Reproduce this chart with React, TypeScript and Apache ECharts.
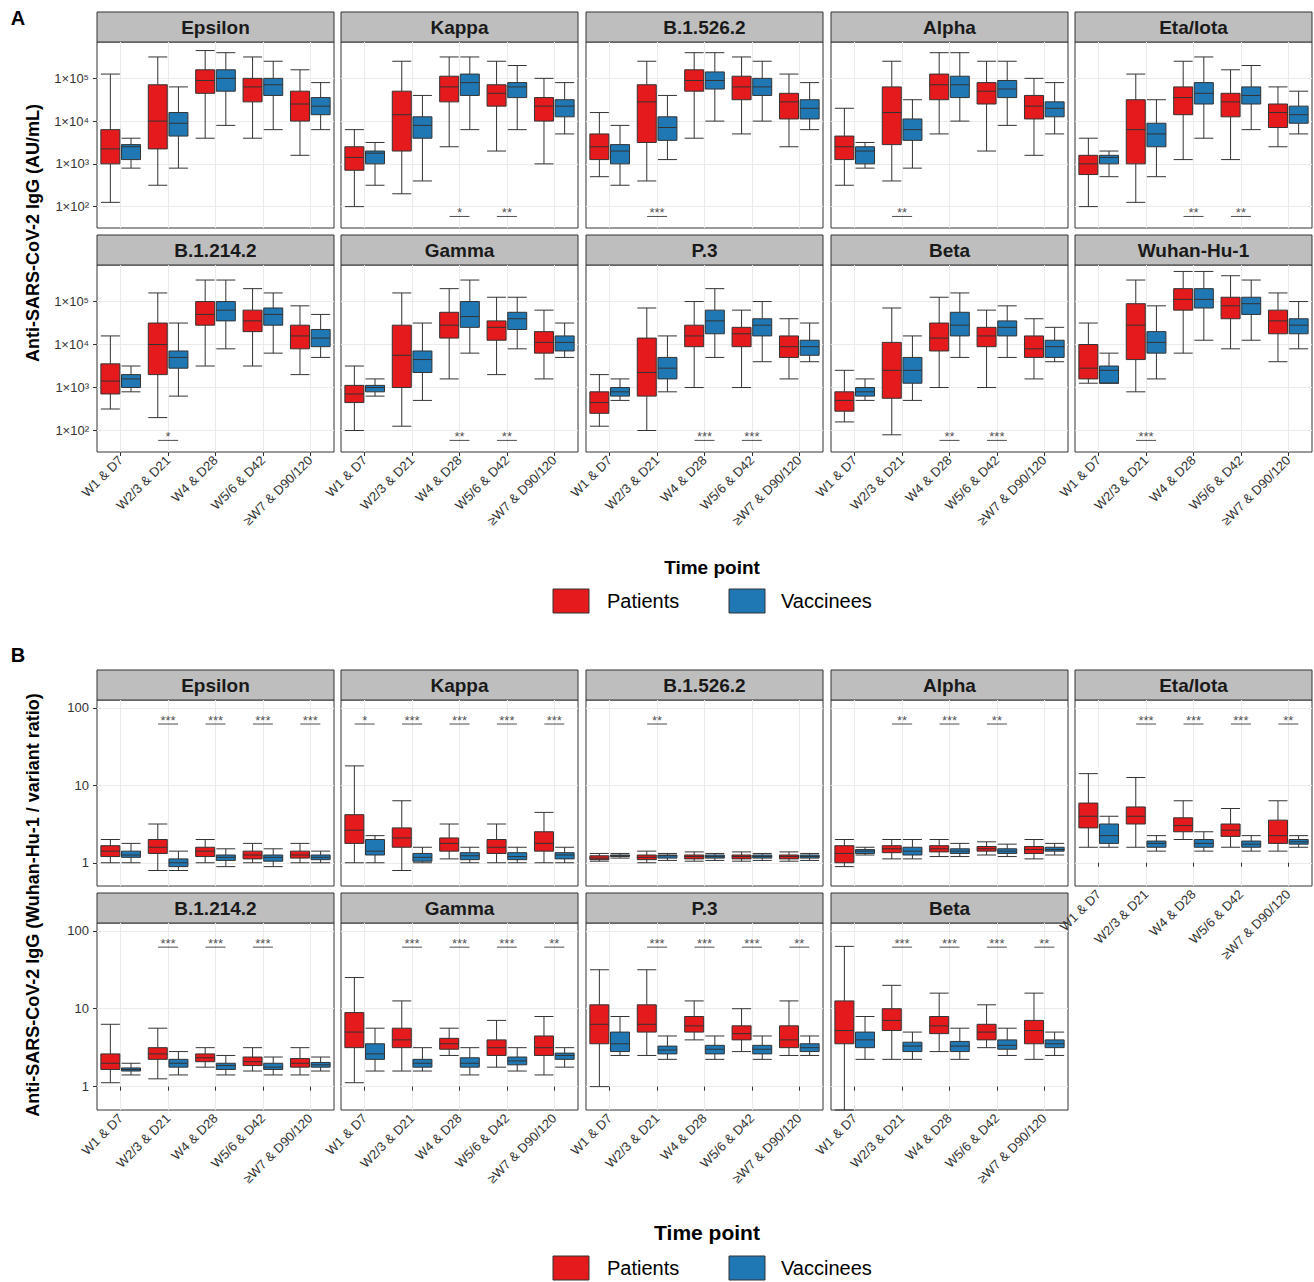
import React, { useEffect, useRef } from 'react';
import * as echarts from 'echarts';

const timePoints = ['W1 & D7', 'W2/3 & D21', 'W4 & D28', 'W5/6 & D42', '≥W7 & D90/120'];

// Panel A: log10(AU/mL), box = [low whisker, Q1, median, Q3, high whisker]
const variantsA = ['Epsilon', 'Kappa', 'B.1.526.2', 'Alpha', 'Eta/Iota', 'B.1.214.2', 'Gamma', 'P.3', 'Beta', 'Wuhan-Hu-1'];
const patientsA = [
  [[2.1, 3.0, 3.35, 3.8, 5.1], [2.5, 3.35, 4.0, 4.85, 5.5], [3.6, 4.65, 4.95, 5.2, 5.65], [3.6, 4.45, 4.8, 5.0, 5.5], [3.2, 4.0, 4.4, 4.7, 5.2]],
  [[2.0, 2.85, 3.15, 3.4, 3.8], [2.3, 3.3, 4.15, 4.7, 5.4], [3.4, 4.45, 4.8, 5.05, 5.5], [3.3, 4.35, 4.65, 4.85, 5.4], [3.0, 4.0, 4.35, 4.55, 5.0]],
  [[2.7, 3.1, 3.4, 3.7, 4.2], [2.6, 3.5, 4.45, 4.85, 5.4], [3.6, 4.7, 4.95, 5.2, 5.6], [3.7, 4.5, 4.8, 5.05, 5.5], [3.4, 4.05, 4.45, 4.65, 5.1]],
  [[2.5, 3.1, 3.4, 3.65, 4.3], [2.6, 3.45, 4.2, 4.8, 5.4], [3.7, 4.5, 4.85, 5.1, 5.6], [3.3, 4.4, 4.7, 4.9, 5.4], [3.2, 4.05, 4.35, 4.6, 5.0]],
  [[2.0, 2.75, 3.0, 3.2, 3.6], [2.1, 3.0, 3.8, 4.5, 5.1], [3.1, 4.15, 4.55, 4.8, 5.4], [3.1, 4.1, 4.45, 4.65, 5.2], [3.4, 3.85, 4.2, 4.4, 4.8]],
  [[2.5, 2.85, 3.15, 3.55, 4.2], [2.3, 3.3, 4.0, 4.5, 5.2], [3.5, 4.45, 4.7, 5.0, 5.5], [3.5, 4.3, 4.55, 4.8, 5.3], [3.3, 3.9, 4.2, 4.45, 4.9]],
  [[2.0, 2.65, 2.85, 3.05, 3.5], [2.1, 3.0, 3.75, 4.45, 5.2], [3.2, 4.15, 4.45, 4.75, 5.3], [3.3, 4.1, 4.4, 4.55, 5.1], [3.2, 3.8, 4.05, 4.3, 4.8]],
  [[2.1, 2.4, 2.65, 2.9, 3.3], [2.0, 2.8, 3.35, 4.15, 4.85], [3.0, 3.95, 4.2, 4.45, 5.0], [3.0, 3.95, 4.25, 4.4, 4.8], [3.2, 3.7, 3.95, 4.2, 4.6]],
  [[2.2, 2.45, 2.7, 2.9, 3.4], [1.9, 2.75, 3.4, 4.05, 4.85], [3.0, 3.85, 4.15, 4.5, 5.1], [3.0, 3.95, 4.2, 4.4, 4.8], [3.2, 3.7, 3.9, 4.2, 4.6]],
  [[3.1, 3.2, 3.45, 4.0, 4.5], [2.9, 3.65, 4.45, 4.95, 5.5], [3.8, 4.8, 5.05, 5.3, 5.7], [3.9, 4.6, 4.9, 5.1, 5.6], [3.6, 4.25, 4.55, 4.8, 5.2]],
];
const vaccineesA = [
  [[2.9, 3.1, 3.4, 3.45, 3.6], [2.9, 3.65, 3.95, 4.2, 4.8], [3.9, 4.7, 5.0, 5.2, 5.6], [3.8, 4.6, 4.85, 5.0, 5.4], [3.8, 4.15, 4.35, 4.55, 4.9]],
  [[2.5, 3.0, 3.25, 3.3, 3.5], [2.6, 3.6, 3.9, 4.1, 4.6], [3.8, 4.6, 4.9, 5.1, 5.5], [3.8, 4.55, 4.8, 4.9, 5.3], [3.7, 4.1, 4.35, 4.5, 4.9]],
  [[2.5, 3.0, 3.3, 3.45, 3.9], [3.1, 3.55, 3.85, 4.1, 4.6], [4.0, 4.75, 4.95, 5.15, 5.6], [4.0, 4.6, 4.8, 5.0, 5.4], [3.8, 4.05, 4.3, 4.5, 4.9]],
  [[2.9, 3.0, 3.3, 3.4, 3.5], [2.9, 3.55, 3.8, 4.05, 4.5], [4.0, 4.55, 4.85, 5.05, 5.6], [3.9, 4.55, 4.75, 4.95, 5.4], [3.7, 4.1, 4.3, 4.45, 4.9]],
  [[2.7, 3.0, 3.15, 3.2, 3.3], [2.7, 3.4, 3.7, 3.95, 4.5], [3.6, 4.4, 4.65, 4.9, 5.5], [3.8, 4.4, 4.6, 4.8, 5.3], [3.7, 3.95, 4.15, 4.35, 4.7]],
  [[2.9, 3.0, 3.2, 3.3, 3.5], [2.8, 3.45, 3.7, 3.85, 4.5], [3.9, 4.55, 4.8, 5.0, 5.5], [3.8, 4.45, 4.7, 4.85, 5.2], [3.7, 3.95, 4.15, 4.35, 4.7]],
  [[2.8, 2.9, 3.0, 3.05, 3.2], [2.7, 3.35, 3.65, 3.85, 4.5], [3.8, 4.4, 4.65, 5.0, 5.5], [3.9, 4.35, 4.6, 4.75, 5.1], [3.7, 3.85, 4.05, 4.2, 4.5]],
  [[2.7, 2.8, 2.9, 3.0, 3.2], [2.9, 3.2, 3.45, 3.7, 4.2], [3.7, 4.25, 4.55, 4.8, 5.3], [3.6, 4.2, 4.45, 4.6, 5.0], [3.6, 3.75, 3.95, 4.1, 4.5]],
  [[2.7, 2.8, 2.9, 3.0, 3.2], [2.7, 3.1, 3.4, 3.7, 4.2], [3.7, 4.2, 4.45, 4.75, 5.2], [3.7, 4.2, 4.4, 4.55, 4.9], [3.6, 3.7, 3.95, 4.1, 4.4]],
  [[3.1, 3.1, 3.4, 3.5, 3.8], [3.2, 3.8, 4.05, 4.3, 4.9], [4.1, 4.85, 5.05, 5.3, 5.7], [4.1, 4.7, 4.95, 5.1, 5.5], [3.9, 4.25, 4.45, 4.6, 5.0]],
];
const sigA = [
  ['', '', '', '', ''],
  ['', '', '*', '**', ''],
  ['', '***', '', '', ''],
  ['', '**', '', '', ''],
  ['', '', '**', '**', ''],
  ['', '*', '', '', ''],
  ['', '', '**', '**', ''],
  ['', '', '***', '***', ''],
  ['', '', '**', '***', ''],
  ['', '***', '', '', ''],
];

// Panel B: log10(Wuhan-Hu-1 / variant ratio)
const variantsB = ['Epsilon', 'Kappa', 'B.1.526.2', 'Alpha', 'Eta/Iota', 'B.1.214.2', 'Gamma', 'P.3', 'Beta'];
const patientsB = [
  [[0.0, 0.08, 0.15, 0.22, 0.3], [-0.1, 0.12, 0.2, 0.3, 0.5], [0.0, 0.08, 0.15, 0.2, 0.3], [0.0, 0.05, 0.1, 0.15, 0.25], [0.0, 0.06, 0.1, 0.15, 0.25]],
  [[0.0, 0.25, 0.42, 0.62, 1.25], [-0.1, 0.2, 0.32, 0.45, 0.8], [0.05, 0.15, 0.25, 0.32, 0.5], [0.0, 0.12, 0.2, 0.3, 0.5], [0.0, 0.15, 0.25, 0.4, 0.65]],
  [[0.02, 0.04, 0.06, 0.09, 0.12], [0.0, 0.04, 0.07, 0.1, 0.15], [0.02, 0.05, 0.08, 0.1, 0.14], [0.02, 0.05, 0.08, 0.1, 0.14], [0.02, 0.05, 0.08, 0.1, 0.14]],
  [[-0.05, 0.0, 0.12, 0.22, 0.3], [0.05, 0.13, 0.18, 0.22, 0.3], [0.08, 0.14, 0.18, 0.22, 0.3], [0.1, 0.15, 0.18, 0.21, 0.27], [0.05, 0.12, 0.17, 0.21, 0.3]],
  [[0.2, 0.45, 0.6, 0.77, 1.15], [0.2, 0.5, 0.6, 0.72, 1.1], [0.3, 0.4, 0.48, 0.58, 0.8], [0.2, 0.34, 0.42, 0.5, 0.7], [0.15, 0.25, 0.35, 0.55, 0.8]],
  [[0.05, 0.22, 0.3, 0.42, 0.8], [0.1, 0.35, 0.42, 0.5, 0.75], [0.25, 0.32, 0.37, 0.42, 0.5], [0.2, 0.27, 0.32, 0.38, 0.5], [0.15, 0.25, 0.3, 0.36, 0.5]],
  [[0.05, 0.5, 0.7, 0.95, 1.4], [0.2, 0.5, 0.6, 0.75, 1.1], [0.4, 0.48, 0.55, 0.62, 0.75], [0.25, 0.4, 0.5, 0.6, 0.85], [0.15, 0.4, 0.5, 0.65, 0.9]],
  [[0.0, 0.55, 0.8, 1.05, 1.5], [0.4, 0.7, 0.8, 1.05, 1.5], [0.6, 0.7, 0.78, 0.9, 1.1], [0.45, 0.6, 0.68, 0.78, 1.0], [0.4, 0.5, 0.6, 0.78, 1.1]],
  [[-0.3, 0.55, 0.72, 1.1, 1.8], [0.35, 0.72, 0.85, 1.0, 1.3], [0.45, 0.68, 0.78, 0.9, 1.2], [0.5, 0.6, 0.7, 0.8, 1.05], [0.35, 0.55, 0.72, 0.85, 1.2]],
];
const vaccineesB = [
  [[0.0, 0.07, 0.1, 0.15, 0.25], [-0.1, -0.05, 0.0, 0.05, 0.15], [-0.05, 0.03, 0.07, 0.1, 0.18], [-0.05, 0.02, 0.07, 0.1, 0.18], [0.0, 0.04, 0.07, 0.1, 0.15]],
  [[0.0, 0.1, 0.15, 0.3, 0.35], [0.0, 0.02, 0.07, 0.12, 0.2], [0.0, 0.04, 0.09, 0.13, 0.2], [0.0, 0.04, 0.08, 0.13, 0.2], [0.0, 0.05, 0.1, 0.13, 0.2]],
  [[0.06, 0.08, 0.09, 0.1, 0.12], [0.03, 0.06, 0.09, 0.1, 0.12], [0.03, 0.06, 0.08, 0.1, 0.12], [0.03, 0.06, 0.08, 0.1, 0.12], [0.03, 0.06, 0.08, 0.1, 0.12]],
  [[0.1, 0.12, 0.15, 0.17, 0.2], [0.05, 0.1, 0.15, 0.2, 0.3], [0.08, 0.12, 0.15, 0.18, 0.25], [0.08, 0.12, 0.15, 0.18, 0.24], [0.1, 0.15, 0.17, 0.2, 0.25]],
  [[0.2, 0.25, 0.35, 0.5, 0.6], [0.15, 0.2, 0.25, 0.28, 0.35], [0.15, 0.2, 0.25, 0.3, 0.4], [0.15, 0.2, 0.24, 0.28, 0.35], [0.2, 0.24, 0.27, 0.3, 0.35]],
  [[0.15, 0.2, 0.22, 0.24, 0.3], [0.15, 0.25, 0.3, 0.35, 0.45], [0.15, 0.22, 0.27, 0.3, 0.4], [0.15, 0.22, 0.25, 0.3, 0.38], [0.2, 0.25, 0.28, 0.31, 0.38]],
  [[0.2, 0.35, 0.42, 0.55, 0.75], [0.2, 0.25, 0.3, 0.35, 0.5], [0.15, 0.25, 0.3, 0.37, 0.5], [0.2, 0.28, 0.33, 0.38, 0.5], [0.25, 0.35, 0.4, 0.43, 0.5]],
  [[0.4, 0.45, 0.55, 0.7, 0.9], [0.35, 0.42, 0.47, 0.52, 0.65], [0.35, 0.42, 0.48, 0.53, 0.65], [0.35, 0.42, 0.48, 0.53, 0.65], [0.4, 0.45, 0.5, 0.55, 0.65]],
  [[0.35, 0.5, 0.6, 0.7, 0.9], [0.35, 0.45, 0.52, 0.57, 0.7], [0.35, 0.45, 0.52, 0.58, 0.75], [0.4, 0.48, 0.53, 0.6, 0.75], [0.4, 0.5, 0.55, 0.6, 0.7]],
];
const sigB = [
  ['', '***', '***', '***', '***'],
  ['*', '***', '***', '***', '***'],
  ['', '**', '', '', ''],
  ['', '**', '***', '**', ''],
  ['', '***', '***', '***', '**'],
  ['', '***', '***', '***', ''],
  ['', '***', '***', '***', '**'],
  ['', '***', '***', '***', '**'],
  ['', '***', '***', '***', '**'],
];

const yTicksA = [2, 3, 4, 5];
const yTicksB = [0, 1, 2];
const sup: Record<number, string> = { 2: '²', 3: '³', 4: '⁴', 5: '⁵' };

const FONT = '"Liberation Sans", Arial, Helvetica, sans-serif';
const RED = '#E41A1C';
const BLUE = '#1F78B4';
const COLS = [97, 341, 586, 831, 1075];
const W = 237;

const App: React.FC = () => {
  const ref = useRef<HTMLDivElement>(null);

  useEffect(() => {
    if (!ref.current) return;
    document.body.style.margin = '0';
    const chart = echarts.init(ref.current, null, { renderer: 'svg' });

    const grid: any[] = [];
    const xAxis: any[] = [];
    const yAxis: any[] = [];
    const series: any[] = [];
    const graphic: any[] = [];

    const addPanel = (
      name: string, left: number, top: number, height: number,
      pat: number[][], vac: number[][], sig: string[],
      showX: boolean, showY: boolean, isA: boolean
    ) => {
      const g = grid.length;
      grid.push({ left, top, width: W, height, show: true, borderColor: '#333', borderWidth: 1, backgroundColor: '#fff', containLabel: false });
      xAxis.push({
        gridIndex: g, type: 'category', data: timePoints,
        axisLine: { show: false },
        axisTick: { show: showX, alignWithLabel: true, length: 4, lineStyle: { color: '#333' } },
        axisLabel: { show: showX, rotate: 45, interval: 0, fontSize: 13, color: '#333', fontFamily: FONT, margin: 6 },
        splitLine: { show: true, alignWithLabel: true, lineStyle: { color: '#ebebeb' } },
      });
      const ticks = isA ? yTicksA : yTicksB;
      yAxis.push({
        gridIndex: g, type: 'value',
        min: isA ? 1.5 : -0.3, max: isA ? 5.85 : 2.1,
        axisLine: { show: false },
        axisTick: { show: showY, length: 4, customValues: ticks, lineStyle: { color: '#333' } },
        axisLabel: {
          show: showY, customValues: ticks, fontSize: 13, color: '#333', fontFamily: FONT,
          formatter: (v: number) => (isA ? '1×10' + sup[Math.round(v)] : String(Math.round(Math.pow(10, v)))),
        },
        splitLine: { show: true, lineStyle: { color: '#ebebeb' } },
      });
      const boxStyle = (c: string) => ({ color: c, borderColor: '#333', borderWidth: 1 });
      series.push({ type: 'boxplot', name: 'Patients', xAxisIndex: g, yAxisIndex: g, boxWidth: [19, 19], itemStyle: boxStyle(RED), data: pat });
      series.push({ type: 'boxplot', name: 'Vaccinees', xAxisIndex: g, yAxisIndex: g, boxWidth: [19, 19], itemStyle: boxStyle(BLUE), data: vac });
      const sigData = sig.map((s, i) => (s ? { name: s, value: [i, isA ? 1.77 : 1.79] } : null)).filter(Boolean);
      series.push({
        type: 'scatter', xAxisIndex: g, yAxisIndex: g, symbol: 'rect', symbolSize: [20, 1],
        itemStyle: { color: '#222' }, z: 5,
        label: { show: true, position: 'top', distance: -3, formatter: '{b}', fontSize: 13, color: '#222', fontFamily: FONT },
        data: sigData,
      });
      graphic.push({
        type: 'rect', shape: { x: left, y: top - 30, width: W, height: 30 },
        style: { fill: '#bebebe', stroke: '#333', lineWidth: 1 },
      });
      graphic.push({
        type: 'text', x: left + W / 2, y: top - 15,
        style: { text: name, align: 'center', verticalAlign: 'middle', font: `bold 19px ${FONT}`, fill: '#1a1a1a' },
      });
    };

    variantsA.forEach((v, i) => {
      const row = Math.floor(i / 5);
      addPanel(v, COLS[i % 5], row === 0 ? 42 : 265, row === 0 ? 186 : 187,
        patientsA[i], vaccineesA[i], sigA[i], row === 1, i % 5 === 0, true);
    });
    variantsB.forEach((v, i) => {
      const row = Math.floor(i / 5);
      addPanel(v, COLS[i % 5], row === 0 ? 700 : 923, row === 0 ? 186 : 187,
        patientsB[i], vaccineesB[i], sigB[i], row === 1 || i === 4, i % 5 === 0, false);
    });

    const txt = (text: string, x: number, y: number, size: number, bold = true, extra: any = {}) => ({
      type: 'text', x, y, ...extra,
      style: { text, align: 'center', verticalAlign: 'middle', font: `${bold ? 'bold ' : ''}${size}px ${FONT}`, fill: '#000' },
    });
    const legend = (y: number) => [
      { type: 'rect', shape: { x: 553, y, width: 36, height: 24 }, style: { fill: RED, stroke: '#333', lineWidth: 1 } },
      { type: 'text', x: 607, y: y + 12, style: { text: 'Patients', verticalAlign: 'middle', font: `20px ${FONT}`, fill: '#000' } },
      { type: 'rect', shape: { x: 729, y, width: 36, height: 24 }, style: { fill: BLUE, stroke: '#333', lineWidth: 1 } },
      { type: 'text', x: 781, y: y + 12, style: { text: 'Vaccinees', verticalAlign: 'middle', font: `20px ${FONT}`, fill: '#000' } },
    ];
    graphic.push(
      txt('A', 18, 18, 20),
      txt('B', 18, 655, 20),
      txt('Anti-SARS-CoV-2 IgG (AU/mL)', 33, 233, 18, true, { rotation: Math.PI / 2 }),
      txt('Anti-SARS-CoV-2 IgG (Wuhan-Hu-1 / variant ratio)', 33, 905, 18, true, { rotation: Math.PI / 2 }),
      txt('Time point', 712, 567, 19),
      txt('Time point', 707, 1232, 21),
      ...legend(589),
      ...legend(1256),
    );

    chart.setOption({ animation: false, textStyle: { fontFamily: FONT }, grid, xAxis, yAxis, series, graphic });
    return () => chart.dispose();
  }, []);

  return <div ref={ref} style={{ width: 1314, height: 1282 }} />;
};

export default App;
